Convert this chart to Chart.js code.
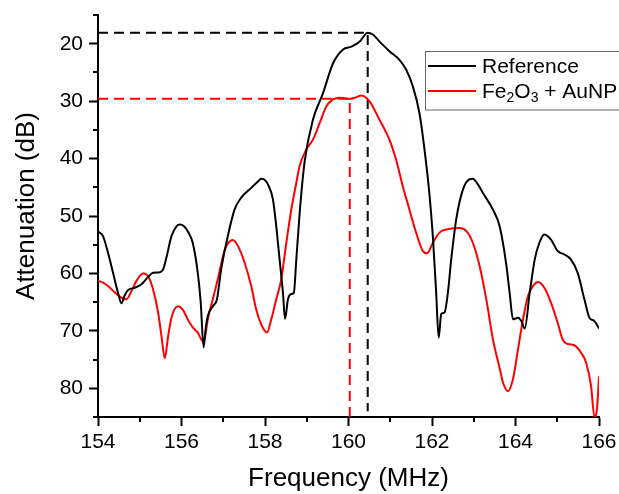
<!DOCTYPE html>
<html>
<head>
<meta charset="utf-8">
<script src="https://cdn.jsdelivr.net/npm/chart.js@4/dist/chart.umd.min.js"></script>
<style>
  html, body { margin: 0; padding: 0; background: #fff; }
  #wrap { width: 619px; height: 494px; }
</style>
</head>
<body>
<div id="wrap"><canvas id="atten" width="619" height="494"></canvas></div>
<script>
const seriesNames = ['Reference', 'Fe2O3 + AuNP']

const refFreq = [
  154.00, 154.12, 154.24, 154.36, 154.48, 154.56, 154.64, 154.72, 154.88, 155.04,
  155.20, 155.32, 155.48, 155.56, 155.64, 155.76, 155.88, 155.96, 156.06, 156.16,
  156.27, 156.39, 156.46, 156.53, 156.58, 156.63, 156.75, 156.85, 156.95, 157.11,
  157.27, 157.43, 157.67, 157.83, 157.91, 157.99, 158.07, 158.19, 158.27, 158.35,
  158.43, 158.48, 158.55, 158.63, 158.69, 158.75, 158.83, 158.95, 159.15, 159.39,
  159.63, 159.87, 160.07, 160.27, 160.46, 160.58, 160.78, 160.98, 161.22, 161.38,
  161.54, 161.70, 161.82, 161.94, 162.02, 162.10, 162.16, 162.22, 162.30, 162.38,
  162.46, 162.58, 162.74, 162.90, 162.98, 163.10, 163.22, 163.46, 163.62, 163.78,
  163.86, 163.94, 164.06, 164.14, 164.22, 164.34, 164.46, 164.57, 164.69, 164.85,
  165.01, 165.17, 165.33, 165.49, 165.65, 165.77, 165.89, 166.00
]
const refAtt = [
  52.7, 53.5, 56.4, 59.9, 63.4, 65.2, 63.8, 62.9, 62.5, 61.9,
  60.6, 59.9, 59.8, 59.3, 57.2, 53.5, 51.8, 51.5, 51.8, 52.8,
  54.7, 59.9, 65.0, 72.9, 69.5, 67.4, 65.7, 64.5, 59.3, 53.5,
  48.9, 46.8, 45.1, 44.0, 43.5, 43.7, 44.5, 47.1, 51.8, 57.6,
  63.4, 67.9, 64.5, 63.6, 63.4, 57.6, 49.5, 40.5, 33.2, 28.6,
  23.4, 21.0, 20.5, 19.6, 18.1, 18.4, 19.9, 21.3, 22.8, 24.5,
  27.4, 32.1, 38.4, 46.3, 53.5, 63.4, 71.2, 67.1, 66.8, 63.4,
  57.6, 50.6, 45.4, 43.6, 43.5, 44.5, 46.0, 48.9, 51.8, 58.5,
  63.4, 68.0, 67.7, 68.3, 69.6, 63.4, 57.6, 54.7, 53.2, 54.1,
  56.1, 56.7, 57.6, 59.9, 64.5, 67.7, 68.3, 69.6
]

const feFreq = [
  154.00, 154.12, 154.24, 154.40, 154.56, 154.68, 154.80, 154.92, 155.08, 155.20,
  155.32, 155.44, 155.52, 155.60, 155.68, 155.77, 155.92, 156.03, 156.15, 156.27,
  156.39, 156.51, 156.56, 156.63, 156.75, 156.87, 157.03, 157.11, 157.23, 157.35,
  157.51, 157.67, 157.79, 157.91, 158.05, 158.15, 158.27, 158.39, 158.51, 158.63,
  158.75, 158.83, 158.99, 159.15, 159.31, 159.47, 159.63, 159.79, 160.03, 160.19,
  160.31, 160.50, 160.74, 160.98, 161.14, 161.30, 161.46, 161.62, 161.78, 161.88,
  162.02, 162.18, 162.38, 162.66, 162.82, 162.98, 163.14, 163.30, 163.46, 163.62,
  163.70, 163.82, 163.94, 164.06, 164.18, 164.30, 164.42, 164.54, 164.69, 164.85,
  165.01, 165.13, 165.25, 165.41, 165.57, 165.69, 165.81, 165.89, 165.95, 166.00
]
const feAtt = [
  61.3, 61.6, 62.2, 63.3, 64.2, 64.5, 63.1, 61.3, 60.0, 60.5,
  62.8, 66.8, 70.9, 74.8, 70.9, 67.4, 65.7, 66.3, 68.0, 69.4,
  70.3, 71.8, 71.2, 68.0, 64.5, 61.0, 56.0, 54.8, 54.2, 55.2,
  58.1, 62.2, 66.3, 68.9, 70.3, 68.0, 64.5, 61.0, 54.7, 48.9,
  44.2, 41.3, 38.4, 36.7, 33.8, 30.9, 29.7, 29.4, 29.6, 29.3,
  29.0, 30.0, 33.2, 36.7, 40.2, 44.8, 48.9, 52.9, 56.1, 56.5,
  54.7, 52.9, 52.3, 52.1, 52.6, 54.7, 58.7, 64.5, 71.5, 76.5,
  79.0, 80.5, 78.4, 73.2, 68.0, 63.9, 62.2, 61.5, 62.5, 65.1,
  68.6, 71.5, 72.3, 72.5, 73.8, 75.5, 79.6, 85.0, 83.7, 77.9
]

// peak markers (frequency, attenuation)
const refPeak = [160.46, 18.1]
const fePeak = [160.03, 29.6]

const xMin = 154, xMax = 166
const yMin = 15, yMax = 85
const xMajor = [154, 156, 158, 160, 162, 164, 166]
const yMajor = [20, 30, 40, 50, 60, 70, 80]

const FONT = '"Liberation Sans", Arial, sans-serif'

function toPoints(xs, ys) {
  return xs.map((x, i) => ({ x: x, y: ys[i] }))
}

function guide(peak, end) {
  return [
    { x: xMin, y: peak[1] },
    { x: peak[0], y: peak[1] },
    { x: peak[0], y: end }
  ]
}

// minor ticks, axis titles and the boxed legend
const extras = {
  id: 'extras',
  afterDraw(chart) {
    const ctx = chart.ctx
    const xs = chart.scales.x, ys = chart.scales.y
    const area = chart.chartArea
    ctx.save()
    ctx.strokeStyle = '#000'
    ctx.lineWidth = 2
    for (let v = xMin + 1; v < xMax; v += 2) {
      const px = Math.round(xs.getPixelForValue(v))
      ctx.beginPath()
      ctx.moveTo(px, area.bottom)
      ctx.lineTo(px, area.bottom + 5)
      ctx.stroke()
    }
    for (let v = yMin; v <= yMax; v += 10) {
      const py = Math.round(ys.getPixelForValue(v))
      ctx.beginPath()
      ctx.moveTo(area.left - 5, py)
      ctx.lineTo(area.left, py)
      ctx.stroke()
    }

    ctx.fillStyle = '#000'
    ctx.font = '26px ' + FONT
    ctx.textAlign = 'center'
    ctx.textBaseline = 'middle'
    ctx.fillText('Frequency (MHz)', (area.left + area.right) / 2, 479)
    ctx.save()
    ctx.translate(27, 206)
    ctx.rotate(-Math.PI / 2)
    ctx.fillText('Attenuation (dB)', 0, 0)
    ctx.restore()

    // legend box
    ctx.lineWidth = 1
    ctx.strokeStyle = '#666'
    ctx.strokeRect(425.5, 51.5, 220, 58.5)
    const rows = [
      { color: '#000', y: 66 },
      { color: '#ff0000', y: 91 }
    ]
    rows.forEach(r => {
      ctx.strokeStyle = r.color
      ctx.lineWidth = 2
      ctx.beginPath()
      ctx.moveTo(428, r.y)
      ctx.lineTo(476, r.y)
      ctx.stroke()
    })
    ctx.textAlign = 'left'
    ctx.textBaseline = 'middle'
    ctx.font = '21px ' + FONT
    ctx.fillText(seriesNames[0], 482, 67)
    // Fe2O3 with real subscripts
    let x = 482
    const y = 92
    const parts = [['Fe', 0], ['2', 1], ['O', 0], ['3', 1], [' + AuNP', 0]]
    parts.forEach(p => {
      if (p[1]) {
        ctx.font = '14px ' + FONT
        ctx.fillText(p[0], x, y + 6)
      } else {
        ctx.font = '21px ' + FONT
        ctx.fillText(p[0], x, y)
      }
      x += ctx.measureText(p[0]).width
    })
    ctx.restore()
  }
}

new Chart(document.querySelector('#atten'), {
  type: 'line',
  plugins: [extras],
  data: {
    datasets: [
      {
        label: seriesNames[0],
        data: toPoints(refFreq, refAtt),
        borderColor: '#000',
        borderWidth: 2,
        pointRadius: 0,
        cubicInterpolationMode: 'monotone'
      },
      {
        label: seriesNames[1],
        data: toPoints(feFreq, feAtt),
        borderColor: '#ff0000',
        borderWidth: 2,
        pointRadius: 0,
        cubicInterpolationMode: 'monotone'
      },
      {
        label: 'ref peak',
        data: guide(refPeak, 84),
        borderColor: '#000',
        borderWidth: 2,
        borderDash: [10, 6],
        pointRadius: 0,
        tension: 0
      },
      {
        label: 'fe peak',
        data: guide(fePeak, yMax),
        borderColor: '#ff0000',
        borderWidth: 2,
        borderDash: [10, 6],
        pointRadius: 0,
        tension: 0
      }
    ]
  },
  options: {
    responsive: false,
    animation: false,
    devicePixelRatio: 1,
    layout: {
      padding: { top: 15, right: 20, left: 0, bottom: 0 }
    },
    scales: {
      x: {
        type: 'linear',
        min: xMin,
        max: xMax,
        afterFit: scale => {
          scale.height = 77
          scale.paddingLeft = 0
          scale.paddingRight = 0
        },
        border: { display: true, color: '#000', width: 2 },
        grid: {
          display: true,
          drawOnChartArea: false,
          drawTicks: true,
          tickLength: 9,
          tickWidth: 2,
          tickColor: c => xMajor.includes(c.tick && c.tick.value) ? '#000' : 'rgba(0,0,0,0)'
        },
        ticks: {
          stepSize: 1,
          autoSkip: false,
          maxRotation: 0,
          padding: 4,
          color: '#000',
          font: { family: FONT, size: 21 },
          callback: v => xMajor.includes(v) ? String(v) : ''
        }
      },
      y: {
        type: 'linear',
        min: yMin,
        max: yMax,
        reverse: true,
        afterFit: scale => {
          scale.width = 98
          scale.paddingTop = 0
          scale.paddingBottom = 0
        },
        border: { display: true, color: '#000', width: 2 },
        grid: {
          display: true,
          drawOnChartArea: false,
          drawTicks: true,
          tickLength: 9,
          tickWidth: 2,
          tickColor: c => yMajor.includes(c.tick && c.tick.value) ? '#000' : 'rgba(0,0,0,0)'
        },
        ticks: {
          stepSize: 5,
          autoSkip: false,
          padding: 6,
          color: '#000',
          font: { family: FONT, size: 21 },
          callback: v => yMajor.includes(v) ? String(v) : ''
        }
      }
    },
    plugins: {
      legend: { display: false },
      tooltip: { enabled: false }
    }
  }
})
</script>
</body>
</html>
